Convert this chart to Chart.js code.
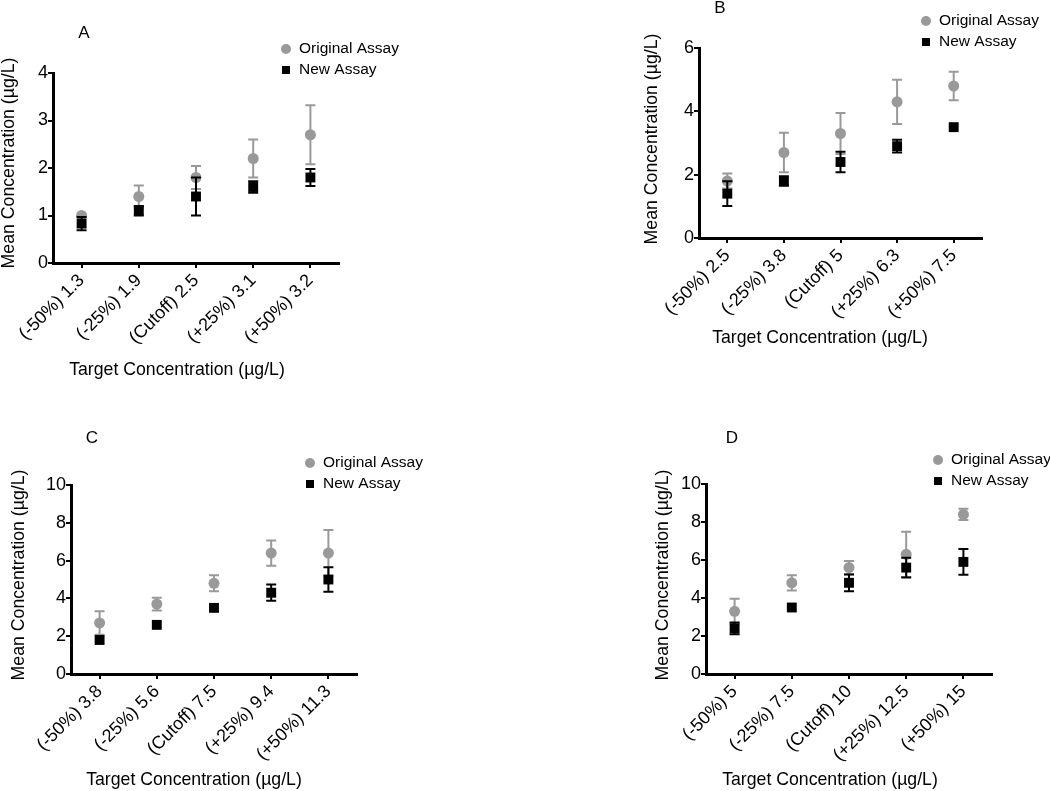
<!DOCTYPE html>
<html>
<head>
<meta charset="utf-8">
<script src="https://cdn.jsdelivr.net/npm/chart.js@4/dist/chart.umd.min.js"></script>
<style>
  body { margin: 0; background: #fff; }
  #wrap { position: relative; width: 1050px; height: 791px; }
  #wrap canvas { position: absolute; left: 0; top: 0; }
</style>
</head>
<body>
<div id="wrap">
  <canvas id="grafA" width="1050" height="791"></canvas>
  <canvas id="grafB" width="1050" height="791"></canvas>
  <canvas id="grafC" width="1050" height="791"></canvas>
  <canvas id="grafD" width="1050" height="791"></canvas>
</div>
<script>
// dados (média e desvio de cada ponto)
const categoriasA = ["(-50%) 1.3", "(-25%) 1.9", "(Cutoff) 2.5", "(+25%) 3.1", "(+50%) 3.2"];
const originalA = [1.0, 1.4, 1.8, 2.2, 2.7];
const erroOriginalA = [0, 0.23, 0.24, 0.4, 0.62];
const novoA = [0.83, 1.1, 1.4, 1.6, 1.8];
const erroNovoA = [0.14, 0.1, 0.4, 0.12, 0.18];

const categoriasB = ["(-50%) 2.5", "(-25%) 3.8", "(Cutoff) 5", "(+25%) 6.3", "(+50%) 7.5"];
const originalB = [1.8, 2.7, 3.3, 4.3, 4.8];
const erroOriginalB = [0.24, 0.62, 0.65, 0.7, 0.45];
const novoB = [1.4, 1.8, 2.4, 2.9, 3.5];
const erroNovoB = [0.39, 0.15, 0.32, 0.2, 0];

const categoriasC = ["(-50%) 3.8", "(-25%) 5.6", "(Cutoff) 7.5", "(+25%) 9.4", "(+50%) 11.3"];
const originalC = [2.7, 3.7, 4.8, 6.4, 6.4];
const erroOriginalC = [0.62, 0.34, 0.42, 0.67, 1.22];
const novoC = [1.8, 2.6, 3.5, 4.3, 5.0];
const erroNovoC = [0, 0, 0, 0.43, 0.65];

const categoriasD = ["(-50%) 5", "(-25%) 7.5", "(Cutoff) 10", "(+25%) 12.5", "(+50%) 15"];
const originalD = [3.3, 4.8, 5.6, 6.3, 8.4];
const erroOriginalD = [0.66, 0.4, 0.35, 1.19, 0.3];
const novoD = [2.4, 3.5, 4.8, 5.6, 5.9];
const erroNovoD = [0.31, 0, 0.44, 0.52, 0.68];

const tituloEixoX = "Target Concentration (µg/L)";
const tituloEixoY = "Mean Concentration (µg/L)";
const nomesSeries = ["Original Assay", "New Assay"];

const CINZA = "#999999";
const FONTE = "'Liberation Sans', Arial, sans-serif";

// posição de cada painel na página
const paineis = [
    { id: "grafA", letra: "A", cats: categoriasA, orig: originalA, errOrig: erroOriginalA, novo: novoA, errNovo: erroNovoA,
      yMax: 4, passo: 1, area: { left: 53, right: 339, top: 73, bottom: 263 },
      letraPos: [84, 33], legenda: [286, 49], tituloX: [177, 370], tituloY: [9, 163] },
    { id: "grafB", letra: "B", cats: categoriasB, orig: originalB, errOrig: erroOriginalB, novo: novoB, errNovo: erroNovoB,
      yMax: 6, passo: 2, area: { left: 699, right: 982, top: 48, bottom: 238 },
      letraPos: [720, 8], legenda: [926, 21], tituloX: [820, 338], tituloY: [652, 139] },
    { id: "grafC", letra: "C", cats: categoriasC, orig: originalC, errOrig: erroOriginalC, novo: novoC, errNovo: erroNovoC,
      yMax: 10, passo: 2, area: { left: 71, right: 357, top: 485, bottom: 674 },
      letraPos: [92, 438], legenda: [310, 463], tituloX: [194, 780], tituloY: [19, 575] },
    { id: "grafD", letra: "D", cats: categoriasD, orig: originalD, errOrig: erroOriginalD, novo: novoD, errNovo: erroNovoD,
      yMax: 10, passo: 2, area: { left: 706, right: 992, top: 484, bottom: 674 },
      letraPos: [732, 438], legenda: [938, 460], tituloX: [830, 780], tituloY: [663, 575] }
];

// barras de erro desenhadas antes dos pontos de cada série
const barrasErro = {
    id: "barrasErro",
    beforeDatasetDraw(chart, args) {
        const ds = chart.data.datasets[args.index];
        if (!ds.erros) return;
        const x = chart.scales.x, y = chart.scales.y, ctx = chart.ctx;
        ctx.save();
        ctx.strokeStyle = ds.backgroundColor;
        ctx.lineWidth = 2;
        ds.data.forEach((v, i) => {
            const e = ds.erros[i];
            if (!e) return;
            const px = x.getPixelForValue(i);
            const topo = y.getPixelForValue(v + e);
            const base = y.getPixelForValue(v - e);
            ctx.beginPath();
            ctx.moveTo(px, topo); ctx.lineTo(px, base);
            ctx.moveTo(px - 5, topo); ctx.lineTo(px + 5, topo);
            ctx.moveTo(px - 5, base); ctx.lineTo(px + 5, base);
            ctx.stroke();
        });
        ctx.restore();
    }
};

function textosPainel(p) {
    return {
        id: "textos" + p.letra,
        afterDraw(chart) {
            const ctx = chart.ctx;
            ctx.save();
            ctx.fillStyle = "#000";
            ctx.textBaseline = "middle";

            ctx.font = "17px " + FONTE;
            ctx.textAlign = "center";
            ctx.fillText(p.letra, p.letraPos[0], p.letraPos[1]);

            // legenda
            const [lx, ly] = p.legenda;
            ctx.fillStyle = CINZA;
            ctx.beginPath();
            ctx.arc(lx, ly, 5, 0, Math.PI * 2);
            ctx.fill();
            ctx.fillStyle = "#000";
            ctx.fillRect(lx - 4, ly + 21 - 4, 8, 8);
            ctx.font = "15.5px " + FONTE;
            ctx.textAlign = "left";
            ctx.fillText(nomesSeries[0], lx + 13, ly);
            ctx.fillText(nomesSeries[1], lx + 13, ly + 21);

            // títulos dos eixos
            ctx.font = "17.7px " + FONTE;
            ctx.textAlign = "center";
            ctx.fillText(tituloEixoX, p.tituloX[0], p.tituloX[1]);
            ctx.translate(p.tituloY[0], p.tituloY[1]);
            ctx.rotate(-Math.PI / 2);
            ctx.fillText(tituloEixoY, 0, 0);
            ctx.restore();
        }
    };
}

paineis.forEach(p => {
    const eixo = {
        grid: { display: true, drawOnChartArea: false, drawTicks: true, tickLength: 5, color: "#000", lineWidth: 2 },
        border: { display: true, color: "#000", width: 3 }
    };
    new Chart(document.getElementById(p.id), {
        type: "line",
        data: {
            labels: p.cats,
            datasets: [
                {
                    label: nomesSeries[0], data: p.orig, erros: p.errOrig, order: 1,
                    showLine: false, pointStyle: "circle", pointRadius: 5.5,
                    backgroundColor: CINZA, borderColor: CINZA, borderWidth: 0, clip: false
                },
                {
                    label: nomesSeries[1], data: p.novo, erros: p.errNovo, order: 0,
                    showLine: false, pointStyle: "rect", pointRadius: 7,
                    backgroundColor: "#000", borderColor: "#000", borderWidth: 0, clip: false
                }
            ]
        },
        options: {
            responsive: false,
            animation: false,
            events: [],
            layout: {
                autoPadding: false,
                padding: {
                    left: p.area.left - 50,
                    right: 1050 - p.area.right,
                    top: p.area.top,
                    bottom: 791 - p.area.bottom - 110
                }
            },
            plugins: { legend: { display: false }, tooltip: { enabled: false } },
            scales: {
                x: {
                    type: "category", offset: true,
                    grid: eixo.grid, border: eixo.border,
                    ticks: { color: "#000", font: { family: FONTE, size: 18 }, minRotation: 45, maxRotation: 45, padding: 2 },
                    afterFit: s => { s.height = 110; }
                },
                y: {
                    min: 0, max: p.yMax,
                    grid: eixo.grid, border: eixo.border,
                    ticks: { stepSize: p.passo, color: "#000", font: { family: FONTE, size: 18 }, padding: 0 },
                    afterFit: s => { s.width = 50; }
                }
            }
        },
        plugins: [barrasErro, textosPainel(p)]
    });
});
</script>
</body>
</html>
